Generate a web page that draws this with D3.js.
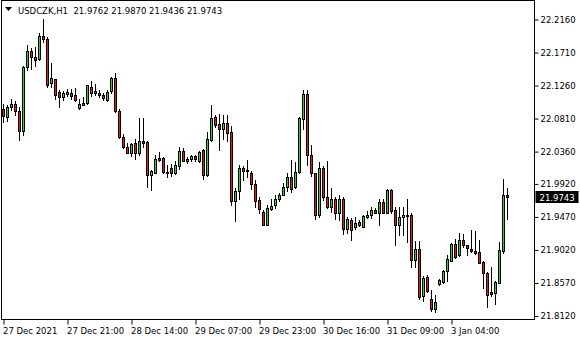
<!DOCTYPE html>
<html>
<head>
<meta charset="utf-8">
<script src="https://cdn.jsdelivr.net/npm/d3@7"></script>
<style>
body { margin: 0; background: #fff; }
svg { display: block; font-family: "DejaVu Sans", sans-serif; }
</style>
</head>
<body>
<div id="chart"></div>
<script>
// USDCZK H1 bars (one value per bar, oldest first)
var opens = [22.0940,22.0835,22.0963,22.1008,22.0913,22.0644,22.1512,22.1734,22.1653,22.1617,
22.1935,22.1898,22.1290,22.1345,22.1172,22.1108,22.1144,22.1162,22.1127,22.0954,
22.0999,22.1018,22.1244,22.1162,22.1162,22.1127,22.1063,22.1189,22.1362,22.0917,
22.0554,22.0418,22.0345,22.0473,22.0345,22.0500,22.0490,22.0045,22.0072,22.0272,
22.0272,22.0082,22.0136,22.0072,22.0163,22.0364,22.0227,22.0255,22.0300,22.0236,
22.0381,22.0045,22.0518,22.0827,22.0736,22.0663,22.0745,22.0627,21.9691,21.9819,
22.0136,22.0109,22.0072,21.9918,21.9700,21.9537,21.9364,21.9582,21.9628,21.9710,
21.9772,21.9873,22.0010,21.9873,22.0082,22.0800,22.1144,22.0309,22.0064,21.9492,
22.0136,21.9737,21.9601,21.9718,21.9519,21.9710,21.9301,21.9428,21.9328,21.9401,
21.9336,21.9473,21.9492,21.9564,21.9527,21.9673,21.9527,21.9836,21.9564,21.9356,
21.9465,21.9492,21.9492,21.8883,21.9029,21.8392,21.8647,21.8347,21.8219,21.8556,
21.8583,21.8729,21.8873,21.9101,21.8947,21.9155,21.9083,21.9029,21.9010,21.8992,
21.8856,21.8702,21.8447,21.8437,21.8574,21.9001,21.9762];
var highs = [22.1008,22.0995,22.1072,22.1049,22.0963,22.1526,22.1812,22.1775,22.1789,22.1980,
22.2162,22.1921,22.1567,22.1353,22.1199,22.1181,22.1208,22.1208,22.1226,22.1072,
22.1108,22.1271,22.1317,22.1281,22.1199,22.1154,22.1199,22.1380,22.1435,22.0936,
22.0599,22.0481,22.0477,22.0527,22.0817,22.0817,22.0504,22.0109,22.0309,22.0354,
22.0286,22.0173,22.0191,22.0236,22.0418,22.0409,22.0290,22.0317,22.0317,22.0364,
22.0399,22.0627,22.0999,22.0862,22.0872,22.0862,22.0862,22.0708,21.9864,22.0173,
22.0163,22.0245,22.0091,21.9973,21.9737,21.9564,21.9628,21.9718,21.9764,21.9800,
21.9928,22.0064,22.0245,22.0218,22.0835,22.1199,22.1199,22.0445,22.0072,22.0218,
22.0163,22.0227,21.9864,21.9745,21.9764,21.9745,21.9473,21.9455,21.9473,21.9428,
21.9500,21.9554,21.9601,21.9591,21.9710,21.9718,21.9854,21.9854,21.9609,21.9609,
21.9609,21.9718,21.9527,21.9138,21.9138,21.8665,21.8674,21.8474,21.8402,21.8628,
21.8747,21.8947,21.9119,21.9173,21.9255,21.9237,21.9091,21.9292,21.9282,21.9155,
21.8865,21.8719,21.8783,21.8593,21.9128,21.9982,21.9870];
var lows = [22.0763,22.0781,22.0926,22.0858,22.0518,22.0586,22.1471,22.1485,22.1530,22.1608,
22.1857,22.1236,22.1244,22.1072,22.0971,22.1063,22.1117,22.1072,22.1053,22.0936,
22.0999,22.1008,22.1117,22.1135,22.1099,22.1063,22.1053,22.1162,22.0899,22.0545,
22.0409,22.0336,22.0300,22.0263,22.0313,22.0418,21.9881,21.9836,22.0072,22.0236,
22.0072,22.0010,22.0027,22.0054,22.0119,22.0227,22.0200,22.0236,22.0227,22.0218,
21.9990,22.0027,22.0504,22.0699,22.0381,22.0527,22.0500,21.9636,21.9410,21.9710,
21.9973,22.0010,21.9854,21.9609,21.9527,21.9356,21.9356,21.9564,21.9591,21.9687,
21.9764,21.9819,21.9809,21.9864,22.0068,22.0672,22.0181,22.0027,21.9437,21.9473,
21.9700,21.9591,21.9537,21.9445,21.9428,21.9237,21.9247,21.9155,21.9301,21.9346,
21.9328,21.9455,21.9455,21.9519,21.9364,21.9519,21.9519,21.9519,21.9091,21.9223,
21.9228,21.9128,21.8783,21.8783,21.8347,21.8320,21.8447,21.8192,21.8174,21.8546,
21.8569,21.8601,21.8869,21.8910,21.8937,21.9064,21.8955,21.8992,21.8965,21.8838,
21.8501,21.8247,21.8392,21.8283,21.8569,21.8974,21.9436];
var closes = [22.0845,22.0963,22.1008,22.0909,22.0644,22.1516,22.1734,22.1644,22.1608,22.1935,
22.1898,22.1271,22.1362,22.1135,22.1108,22.1162,22.1172,22.1117,22.1063,22.1008,
22.1026,22.1263,22.1162,22.1181,22.1127,22.1090,22.1172,22.1362,22.0917,22.0554,
22.0418,22.0345,22.0463,22.0345,22.0500,22.0481,22.0045,22.0091,22.0263,22.0245,
22.0082,22.0072,22.0064,22.0173,22.0364,22.0236,22.0263,22.0300,22.0263,22.0354,
22.0037,22.0527,22.0817,22.0726,22.0672,22.0745,22.0617,21.9691,21.9819,22.0136,
22.0099,22.0091,21.9918,21.9691,21.9574,21.9364,21.9591,21.9619,21.9718,21.9772,
21.9881,22.0010,21.9854,22.0082,22.0817,22.1144,22.0309,22.0064,21.9492,22.0136,
21.9737,21.9609,21.9718,21.9519,21.9710,21.9301,21.9437,21.9287,21.9391,21.9356,
21.9482,21.9500,21.9564,21.9527,21.9673,21.9527,21.9836,21.9554,21.9364,21.9465,
21.9492,21.9486,21.8883,21.9029,21.8383,21.8638,21.8465,21.8219,21.8311,21.8610,
21.8729,21.8892,21.9101,21.8928,21.9155,21.9083,21.9046,21.9001,21.8974,21.8846,
21.8702,21.8410,21.8420,21.8583,21.9019,21.9762,21.9743];

var timeTickBars = [0, 16, 32, 48, 64, 80, 96, 112];
var timeTickLabels = ["27 Dec 2021", "27 Dec 21:00", "28 Dec 14:00", "29 Dec 07:00",
                      "29 Dec 23:00", "30 Dec 16:00", "31 Dec 09:00", "3 Jan 04:00"];
var priceTicks = [22.2160, 22.1710, 22.1260, 22.0810, 22.0360, 21.9920, 21.9470, 21.9020, 21.8570, 21.8120];
var symbolTitle = "USDCZK,H1";
var lastPrice = 21.9743;

var width = 580, height = 340;
var plotLeft = 1.5, plotTop = 0.5, plotRight = 534.5, plotBottom = 319.5;
var bullColor = "#32cd32", bearColor = "#e31b1b";

var svg = d3.select("#chart").append("svg")
    .attr("width", width)
    .attr("height", height);

var x = d3.scaleLinear().domain([0, opens.length - 1]).range([3.5, 3.5 + 4 * (opens.length - 1)]);
var y = d3.scaleLinear().domain([21.812, 22.216]).range([316, 19.5]);

// frame
svg.append("rect")
    .attr("x", plotLeft).attr("y", plotTop)
    .attr("width", plotRight - plotLeft).attr("height", plotBottom - plotTop)
    .attr("fill", "none").attr("stroke", "#000");

// candles
var candles = svg.append("g");
for (var i = 0; i < opens.length; i++) {
    var cx = x(i);
    var yh = Math.round(y(highs[i])), yl = Math.round(y(lows[i]));
    var yTop = Math.round(y(Math.max(opens[i], closes[i])));
    var yBot = Math.round(y(Math.min(opens[i], closes[i])));
    candles.append("rect")
        .attr("x", cx - 0.5).attr("y", yh)
        .attr("width", 1).attr("height", yl - yh + 1)
        .attr("fill", "#000");
    if (yBot - yTop < 1) {
        candles.append("line")
            .attr("x1", cx - 1.5).attr("x2", cx + 1.5)
            .attr("y1", yTop + 0.5).attr("y2", yTop + 0.5)
            .attr("stroke", "#000");
    } else {
        candles.append("rect")
            .attr("x", cx - 1).attr("y", yTop + 0.5)
            .attr("width", 2).attr("height", yBot - yTop)
            .attr("fill", closes[i] >= opens[i] ? bullColor : bearColor)
            .attr("stroke", "#000").attr("stroke-width", 1);
    }
}

// price axis
var yAxis = d3.axisRight(y).tickValues(priceTicks).tickSize(4).tickPadding(2)
    .tickFormat(function(d) { return d.toFixed(4); });
var gy = svg.append("g").attr("transform", "translate(" + plotRight + ",0)").call(yAxis);
gy.select(".domain").remove();
gy.selectAll("text").attr("font-family", "DejaVu Sans").attr("font-size", "8.5px").attr("fill", "#000");

// time axis
var xAxis = d3.axisBottom(x).tickValues(timeTickBars).tickSize(5).tickPadding(3)
    .tickFormat(function(d, k) { return timeTickLabels[k]; });
var gx = svg.append("g").attr("transform", "translate(0," + plotBottom + ")").call(xAxis);
gx.select(".domain").remove();
gx.selectAll("text").attr("text-anchor", "start").attr("x", -1)
    .attr("font-family", "DejaVu Sans").attr("font-size", "8.5px").attr("fill", "#000");

// current price label
var yp = Math.round(y(lastPrice));
svg.append("rect")
    .attr("x", plotRight + 1).attr("y", yp - 6)
    .attr("width", 43).attr("height", 12)
    .attr("fill", "#000");
svg.append("text")
    .attr("x", plotRight + 5).attr("y", yp + 3.5)
    .attr("font-size", "8.5px").attr("fill", "#fff")
    .text(lastPrice.toFixed(4));

// header
svg.append("path").attr("d", "M5,7L12,7L8.5,11Z").attr("fill", "#000");
var n = opens.length - 1;
svg.append("text")
    .attr("x", 18).attr("y", 13.5)
    .attr("font-size", "8.5px").attr("fill", "#000")
    .attr("xml:space", "preserve")
    .text(symbolTitle + "  " + [opens[n], highs[n], lows[n], closes[n]].map(function(v) { return v.toFixed(4); }).join(" "));
</script>
</body>
</html>
